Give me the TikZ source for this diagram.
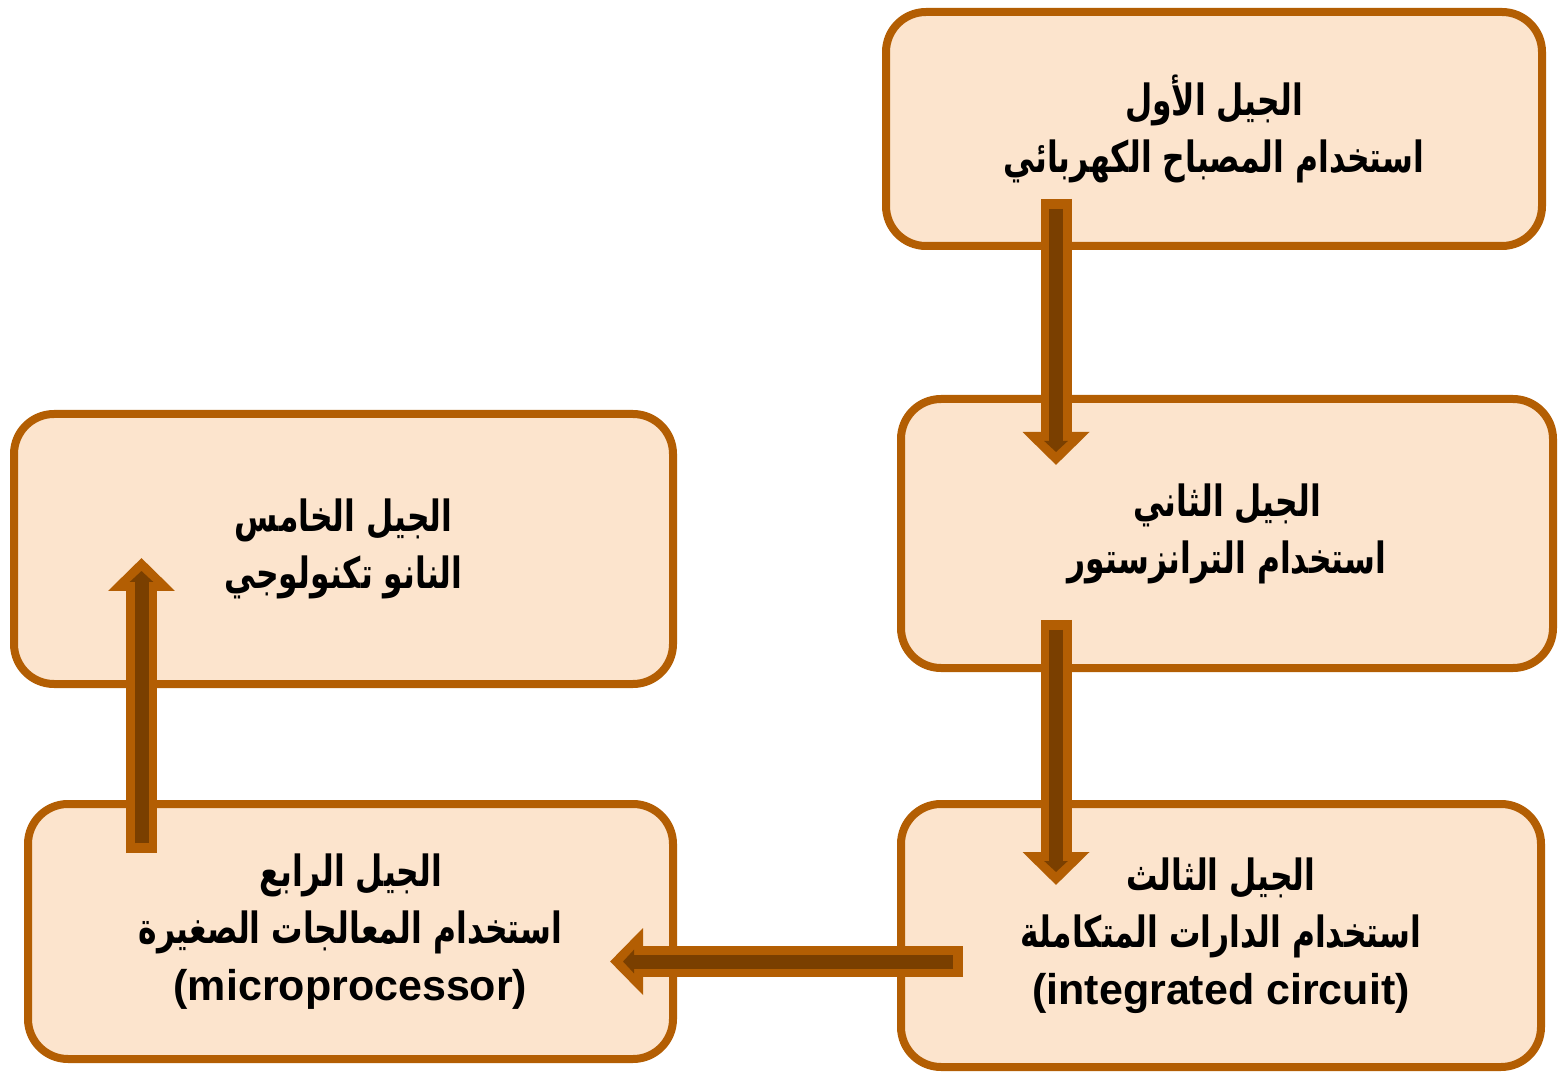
\documentclass[tikz,border=0pt]{standalone}
\usepackage{fontspec}
\setmainfont{Liberation Sans}
\newfontfamily\arabicfont[Script=Arabic, FakeStretch=0.73]{DejaVu Sans}
\TeXXeTstate=1
\usepackage{tikz}
\usetikzlibrary{calc, arrows.meta, positioning}
\tikzset{
    gennode/.style = {draw=boxline, fill=boxfill, rectangle, rounded corners=20pt, line width=4pt, 
      outer sep=0pt, inner sep=0pt, align=center, font=\bfseries\fontsize{21.5}{28.5}\selectfont},
    genarrow/.style = {draw=boxline, line width=15.5pt, -{Triangle[length=16.5pt, width=32.5pt]}, 
      postaction={draw=arrowdark, line width=7pt, shorten <=5pt, shorten >=6.5pt, -{Triangle[length=5.5pt, width=11.5pt]}}}
}
\definecolor{boxfill}{HTML}{FCE4CD}
\definecolor{boxline}{HTML}{B35E03}
\definecolor{arrowdark}{HTML}{7A3F00}
\newcommand{\arab}[1]{{\arabicfont\beginR #1\endR}}

\begin{document}
\begin{tikzpicture}[x=0.5pt, y=-0.5pt]
    \useasboundingbox (0,0) rectangle (1558,1074);

    \node [name = gen1, gennode, minimum width=328pt, minimum height=117pt] at (1214,129) 
        {\arab{الجيل الأول}\\ \arab{استخدام المصباح الكهربائي}};
    \node [name = gen2, gennode, minimum width=326pt, minimum height=134.5pt, below = 76.5pt of gen1, xshift=6.5pt] 
        {\arab{الجيل الثاني}\\ \arab{استخدام الترانزستور}};
    \node [name = gen3, gennode, minimum width=320pt, minimum height=131.5pt, below = 68pt of gen2, xshift=-3pt] 
        {\arab{الجيل الثالث}\\ \arab{استخدام الدارات المتكاملة}\\ (integrated circuit)};
    \node [name = gen4, gennode, minimum width=322.5pt, minimum height=127.5pt, left = 114pt of gen3, yshift=2pt] 
        {\arab{الجيل الرابع}\\ \arab{استخدام المعالجات الصغيرة}\\ (microprocessor)};
    \node [name = gen5, gennode, minimum width=329.5pt, minimum height=135pt, above = 60pt of gen4, xshift=-3.5pt] 
        {\arab{الجيل الخامس}\\ \arab{النانو تكنولوجي}};

    \draw [genarrow] ($(gen1.south)+(-158,-47)$) -- ($(gen2.north)+(-171,66)$);
    \draw [genarrow] ($(gen2.south)+(-171,-48)$) -- ($(gen3.north)+(-165,81)$);
    \draw [genarrow, line join=round] ($(gen3.west)+(62,26)$) -- ($(gen4.east)+(-63,30)$);
    \draw [genarrow] ($(gen4.north)+(-209,49)$) -- ($(gen5.south)+(-202,-126)$);
\end{tikzpicture}
\end{document}
